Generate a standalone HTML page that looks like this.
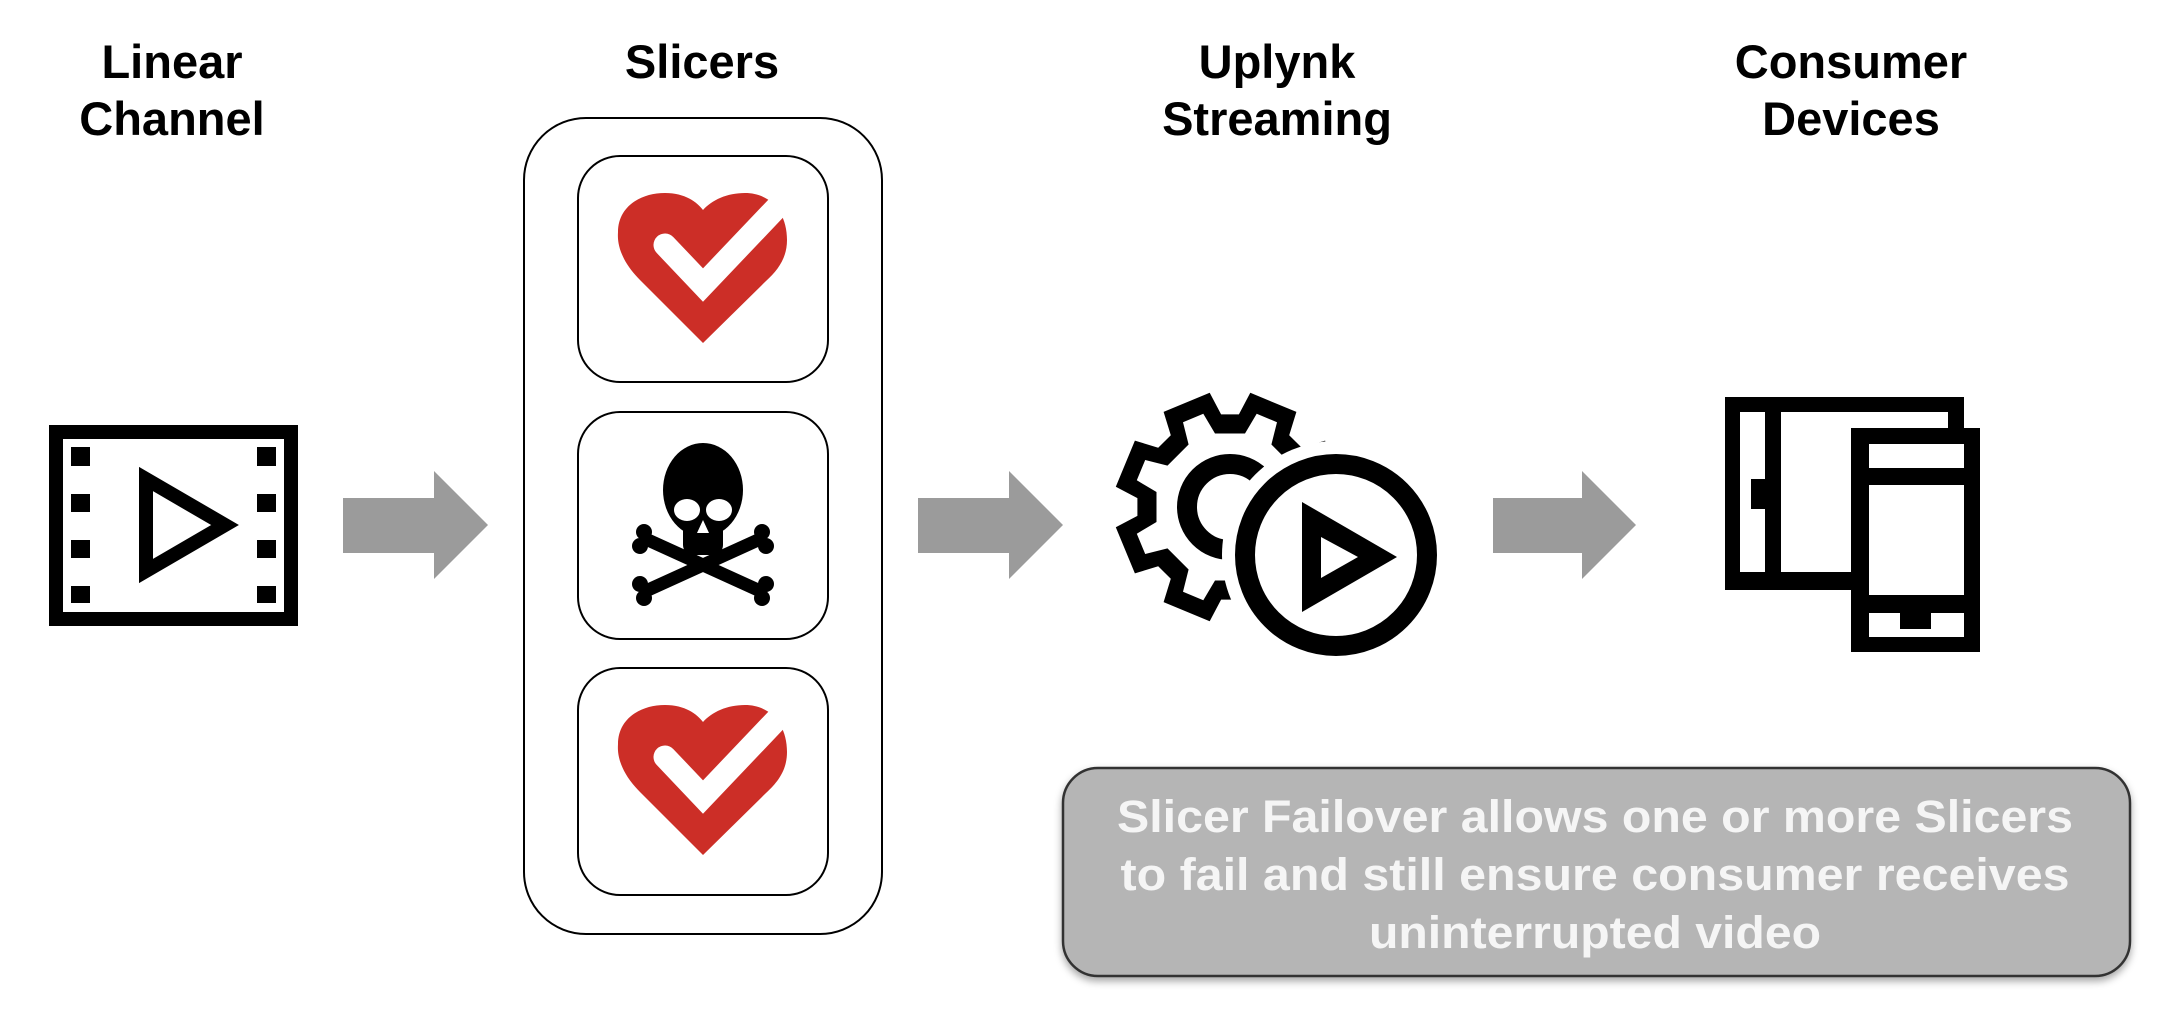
<!DOCTYPE html>
<html><head><meta charset="utf-8"><style>
html,body{margin:0;padding:0;background:#fff;}
svg{display:block;}
text{font-family:"Liberation Sans",Arial,sans-serif;font-weight:bold;}
</style></head><body>
<svg width="2176" height="1018" viewBox="0 0 2176 1018" xmlns="http://www.w3.org/2000/svg">
<defs>
<g id="heart">
<path d="M703,343 L640,280 C615,255 618,235 618,232 C618,207 640,193 665,193 C685,193 697,202 703,210 C712,200 727,193 745,193 C770,193 787,212 787,240 C787,258 778,270 766,281 Z" fill="#cc2e27"/>
<polyline points="665,245 703,285 782,202" fill="none" stroke="#fff" stroke-width="23" stroke-linecap="round"/>
</g>
<filter id="sh" x="-5%" y="-10%" width="110%" height="125%"><feDropShadow dx="0" dy="4" stdDeviation="4" flood-color="#000" flood-opacity="0.35"/></filter>
</defs>

<g font-size="47" fill="#000" text-anchor="middle">
<text x="172" y="78">Linear</text>
<text x="172" y="135">Channel</text>
<text x="702" y="78">Slicers</text>
<text x="1277" y="78">Uplynk</text>
<text x="1277" y="135">Streaming</text>
<text x="1851" y="78">Consumer</text>
<text x="1851" y="135">Devices</text>
</g>

<rect x="56" y="432" width="235" height="187" fill="none" stroke="#000" stroke-width="14"/>
<g fill="#000">
<rect x="71" y="447" width="19" height="19"/><rect x="71" y="494" width="19" height="18"/><rect x="71" y="540" width="19" height="18"/><rect x="71" y="586" width="19" height="17"/>
<rect x="257" y="447" width="19" height="19"/><rect x="257" y="494" width="19" height="18"/><rect x="257" y="540" width="19" height="18"/><rect x="257" y="586" width="19" height="17"/>
</g>
<polygon points="146,479 225,525 146,571" fill="none" stroke="#000" stroke-width="14"/>

<g fill="#9b9b9b">
<polygon points="343,498 434,498 434,471 488,525 434,579 434,553 343,553"/>
<polygon points="918,498 1009,498 1009,471 1063,525 1009,579 1009,553 918,553"/>
<polygon points="1493,498 1582,498 1582,471 1636,525 1582,579 1582,553 1493,553"/>
</g>

<rect x="524" y="118" width="358" height="816" rx="62" fill="none" stroke="#000" stroke-width="2"/>
<rect x="578" y="156" width="250" height="226" rx="42" fill="none" stroke="#000" stroke-width="2"/>
<rect x="578" y="412" width="250" height="227" rx="42" fill="none" stroke="#000" stroke-width="2"/>
<rect x="578" y="668" width="250" height="227" rx="42" fill="none" stroke="#000" stroke-width="2"/>
<use href="#heart"/>
<use href="#heart" transform="translate(0,512)"/>

<g>
<g stroke="#000" stroke-width="13" stroke-linecap="round">
<line x1="648" y1="540" x2="758" y2="590"/>
<line x1="648" y1="590" x2="758" y2="540"/>
</g>
<g fill="#000">
<circle cx="644" cy="532" r="8"/><circle cx="640" cy="546" r="8"/>
<circle cx="762" cy="532" r="8"/><circle cx="766" cy="546" r="8"/>
<circle cx="644" cy="598" r="8"/><circle cx="640" cy="584" r="8"/>
<circle cx="762" cy="598" r="8"/><circle cx="766" cy="584" r="8"/>
<ellipse cx="703" cy="490" rx="40" ry="47"/>
<rect x="683" y="505" width="40" height="50" rx="10"/>
</g>
<ellipse cx="687" cy="510" rx="13" ry="11" fill="#fff"/>
<ellipse cx="719" cy="510" rx="13" ry="11" fill="#fff"/>
<polygon points="703,520 697,533 709,533" fill="#fff"/>
</g>

<g transform="translate(1230,507)">
<path fill="#000" d="M92.6,8.9 L114.2,20.3 L95.1,66.4 L71.8,59.2 L59.2,71.8 L66.4,95.1 L20.3,114.2 L8.9,92.6 L-8.9,92.6 L-20.3,114.2 L-66.4,95.1 L-59.2,71.8 L-71.8,59.2 L-95.1,66.4 L-114.2,20.3 L-92.6,8.9 L-92.6,-8.9 L-114.2,-20.3 L-95.1,-66.4 L-71.8,-59.2 L-59.2,-71.8 L-66.4,-95.1 L-20.3,-114.2 L-8.9,-92.6 L8.9,-92.6 L20.3,-114.2 L66.4,-95.1 L59.2,-71.8 L71.8,-59.2 L95.1,-66.4 L114.2,-20.3 L92.6,-8.9 Z"/>
<path fill="#fff" d="M73.5,15 L93.2,26.7 L84.8,47 L62.5,41.4 L41.4,62.5 L47,84.8 L26.7,93.2 L15,73.5 L-15,73.5 L-26.7,93.2 L-47,84.8 L-41.4,62.5 L-62.5,41.4 L-84.8,47 L-93.2,26.7 L-73.5,15 L-73.5,-15 L-93.2,-26.7 L-84.8,-47 L-62.5,-41.4 L-41.4,-62.5 L-47,-84.8 L-26.7,-93.2 L-15,-73.5 L15,-73.5 L26.7,-93.2 L47,-84.8 L41.4,-62.5 L62.5,-41.4 L84.8,-47 L93.2,-26.7 L73.5,-15 Z"/>
<circle cx="0" cy="0" r="43" fill="none" stroke="#000" stroke-width="20"/>
</g>
<circle cx="1336" cy="555" r="114" fill="#fff"/>
<circle cx="1336" cy="555" r="91" fill="#fff" stroke="#000" stroke-width="20"/>
<polygon points="1302,502 1397,557 1302,612" fill="#000"/>
<polygon points="1321,537 1358,557 1321,578" fill="#fff"/>

<rect x="1725" y="397" width="239" height="193" fill="#000"/>
<rect x="1740" y="412" width="25" height="160" fill="#fff"/>
<rect x="1781" y="412" width="167" height="160" fill="#fff"/>
<rect x="1751" y="479" width="14" height="30" fill="#000"/>
<rect x="1851" y="428" width="129" height="224" fill="#000"/>
<rect x="1869" y="444" width="95" height="24" fill="#fff"/>
<rect x="1869" y="485" width="95" height="110" fill="#fff"/>
<rect x="1869" y="613" width="95" height="24" fill="#fff"/>
<rect x="1900" y="613" width="31" height="16" fill="#000"/>

<rect x="1063" y="768" width="1067" height="208" rx="35" fill="#b5b5b5" stroke="#333" stroke-width="2.5" filter="url(#sh)"/>
<g font-size="45" fill="#f5f5f5" text-anchor="middle">
<text x="1595" y="832" textLength="956" lengthAdjust="spacingAndGlyphs">Slicer Failover allows one or more Slicers</text>
<text x="1595" y="890" textLength="949" lengthAdjust="spacingAndGlyphs">to fail and still ensure consumer receives</text>
<text x="1595" y="948" textLength="452" lengthAdjust="spacingAndGlyphs">uninterrupted video</text>
</g>
</svg>
</body></html>
